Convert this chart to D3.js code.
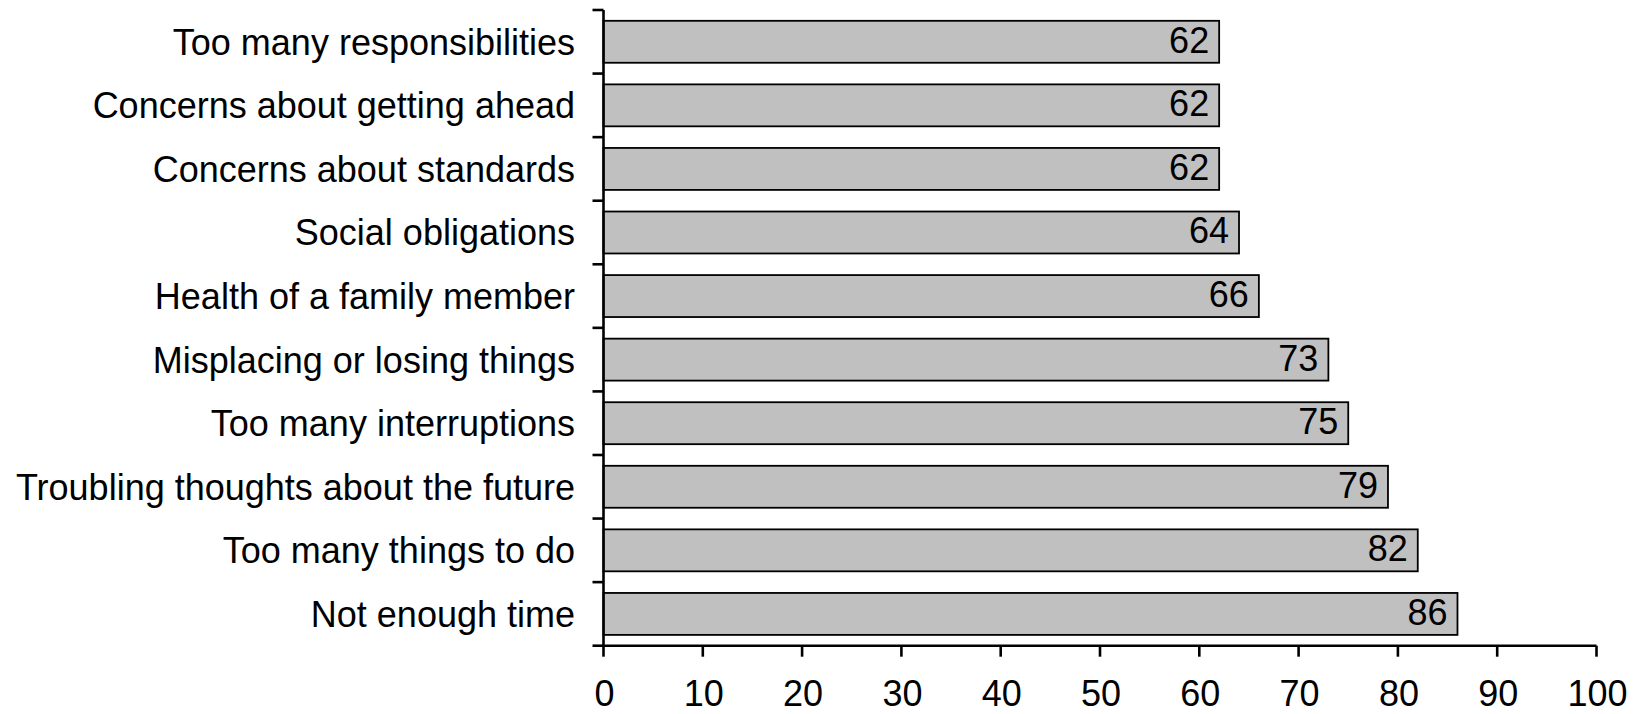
<!DOCTYPE html>
<html><head><meta charset="utf-8">
<script src="https://cdn.jsdelivr.net/npm/d3@7"></script>
<style>body{margin:0;background:#fff}svg{display:block}text{font-family:"Liberation Sans",Arial,sans-serif;fill:#000}</style>
</head><body><svg id="c" width="1639" height="714"></svg>
<script>
const categories = ["Too many responsibilities","Concerns about getting ahead","Concerns about standards","Social obligations","Health of a family member","Misplacing or losing things","Too many interruptions","Troubling thoughts about the future","Too many things to do","Not enough time"];
const values = [62,62,62,64,66,73,75,79,82,86];
const xTicks = [0,10,20,30,40,50,60,70,80,90,100];

const svg = d3.select("#c");
const L = 603.5, R = 1596.5, T = 10, B = 645.7;
const x = d3.scaleLinear().domain([0,100]).range([L,R]);
const y = d3.scaleBand().domain(categories).range([T,B]).paddingInner(0.34).paddingOuter(0.17);
const fs = 36;

svg.selectAll("rect.bar").data(values).join("rect")
  .attr("x", x(0)).attr("y",(d,i)=>y(categories[i]))
  .attr("width", d=>x(d)-x(0)).attr("height", y.bandwidth())
  .attr("fill","#c0c0c0").attr("stroke","#000").attr("stroke-width",1.8);

svg.selectAll("text.val").data(values).join("text")
  .attr("x", d=>x(d)-10).attr("y",(d,i)=>y(categories[i])+y.bandwidth()/2+11)
  .attr("text-anchor","end")
  .style("font-size",fs+"px").text(d=>d);

svg.selectAll("text.cat").data(categories).join("text")
  .attr("x", 575).attr("y", d=>y(d)+y.bandwidth()/2+13)
  .attr("text-anchor","end")
  .style("font-size",fs+"px").text(d=>d);

const step = y.step();
const bounds = d3.range(categories.length+1).map(i=>T+i*step);
svg.append("line").attr("x1",L).attr("x2",L).attr("y1",T).attr("y2",B).attr("stroke","#000").attr("stroke-width",2.6);
svg.selectAll("line.yt").data(bounds).join("line")
  .attr("x1",L-11).attr("x2",L).attr("y1",d=>d).attr("y2",d=>d).attr("stroke","#000").attr("stroke-width",2.6);

svg.append("line").attr("x1",L).attr("x2",R).attr("y1",B).attr("y2",B).attr("stroke","#000").attr("stroke-width",2.6);
svg.selectAll("line.xt").data(xTicks).join("line")
  .attr("x1",d=>x(d)).attr("x2",d=>x(d)).attr("y1",B).attr("y2",B+11).attr("stroke","#000").attr("stroke-width",2.6);
svg.selectAll("text.xl").data(xTicks).join("text")
  .attr("x",d=>x(d)+1).attr("y",706).attr("text-anchor","middle")
  .style("font-size",fs+"px").text(d=>d);
</script></body></html>
